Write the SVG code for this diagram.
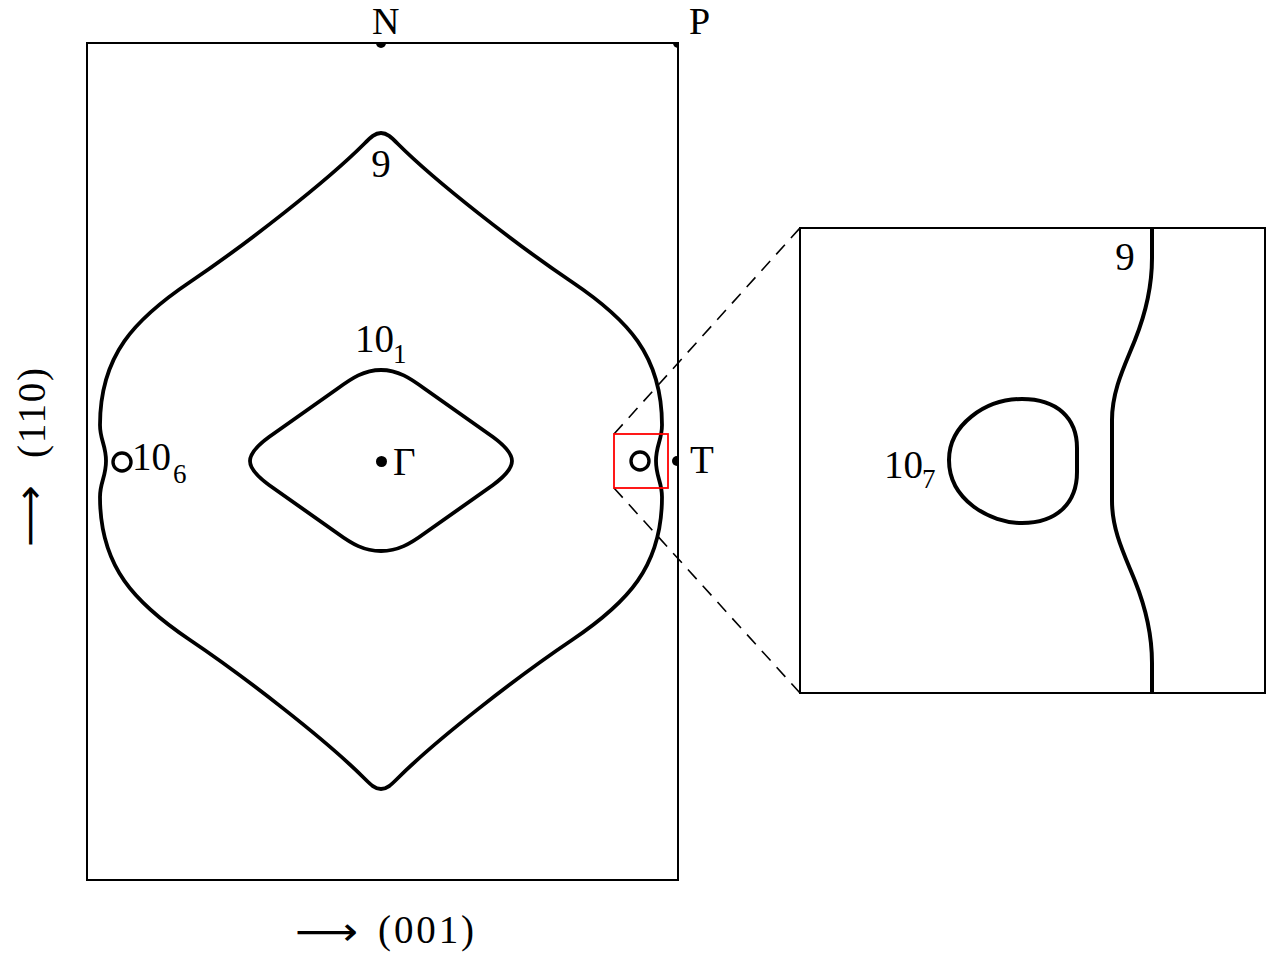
<svg xmlns="http://www.w3.org/2000/svg" width="1278" height="959" viewBox="0 0 1278 959">
  <style>
    .frame { fill: none; stroke: #000; stroke-width: 2; }
    .fs { fill: none; stroke: #000; stroke-width: 3.8; stroke-linejoin: round; }
    .dot { fill: #000; }
    .lbl { font-family: "Liberation Serif", "DejaVu Serif", serif; font-size: 39px; fill: #000; }
    .top { font-size: 38px; }
    .sub { font-family: "Liberation Serif", "DejaVu Serif", serif; font-size: 27px; fill: #000; }
    .arr { font-family: "DejaVu Sans", sans-serif; font-size: 39px; fill: #000; }
    .dash { fill: none; stroke: #000; stroke-width: 1.6; stroke-dasharray: 13 9; }
    .zoombox { fill: none; stroke: #ff0000; stroke-width: 1.8; }
  </style>
  <defs>
    <clipPath id="frameClip">
      <rect x="87" y="43" width="591" height="837"/>
    </clipPath>
  </defs>
  <rect width="1278" height="959" fill="#fff"/>

  <g id="connectors">
    <line class="dash" x1="614" y1="434" x2="800" y2="228"/>
    <line class="dash" x1="614" y1="488" x2="800" y2="693"/>
  </g>

  <g id="brillouin-frame">
    <rect class="frame" x="87" y="43" width="591" height="837"/>
  </g>

  <g id="sheet-9">
    <path class="fs" d="M 381 133 C 375 133 371 137 364 144 C 326 182 245 245 190 282 C 135 319 100 355 100 425 C 100 440 106 445 106 461 C 106 477 100 482 100 497 C 100 567 135 603 190 640 C 245 677 326 740 364 778 C 371 785 375 789 381 789 C 387 789 391 785 398 778 C 436 740 517 677 572 640 C 627 603 662 567 662 497 C 662 482 656 477 656 461 C 656 445 662 440 662 425 C 662 355 627 319 572 282 C 517 245 436 182 398 144 C 391 137 387 133 381 133 Z"/>
    <text class="lbl" x="381" y="177" text-anchor="middle">9</text>
  </g>

  <g id="sheet-10-1">
    <path class="fs" d="M 381 370 C 398 370 410 378 425 389 L 493 437 C 508 448 512 455 512 461 C 512 467 508 474 493 485 L 425 533 C 410 544 398 551 381 551 C 364 551 352 544 337 533 L 269 485 C 254 474 250 467 250 461 C 250 455 254 448 269 437 L 337 389 C 352 378 364 370 381 370 Z"/>
    <text class="lbl" x="355" y="352">10</text>
    <text class="sub" x="393" y="363">1</text>
  </g>

  <g id="pocket-10-6">
    <circle class="fs" cx="122" cy="462" r="9" style="stroke-width:3.4"/>
    <text class="lbl" x="132" y="470">10</text>
    <text class="sub" x="173" y="483">6</text>
  </g>

  <g id="pocket-10-7">
    <circle class="fs" cx="640" cy="461" r="9" style="stroke-width:3.4"/>
  </g>

  <g id="point-gamma">
    <circle class="dot" cx="381.5" cy="461.5" r="5.5"/>
    <text class="lbl" x="393" y="475">Γ</text>
  </g>

  <g id="point-N">
    <circle class="dot" cx="381" cy="43" r="5" clip-path="url(#frameClip)"/>
    <text class="lbl top" x="372" y="34">N</text>
  </g>

  <g id="point-P">
    <circle class="dot" cx="678" cy="43" r="5" clip-path="url(#frameClip)"/>
    <text class="lbl top" x="689" y="34">P</text>
  </g>

  <g id="point-T">
    <circle class="dot" cx="677" cy="461" r="5" clip-path="url(#frameClip)"/>
    <text class="lbl" x="690" y="473">T</text>
  </g>

  <g id="zoom-box">
    <rect class="zoombox" x="614" y="434" width="54" height="54"/>
  </g>

  <g id="inset">
    <rect class="frame" x="800" y="228" width="465" height="465"/>
    <path class="fs" d="M 1152 228 L 1152 258 C 1152 290 1145 315 1135 340 C 1125 365 1112 390 1112 420 L 1112 501 C 1112 531 1125 556 1135 581 C 1145 606 1152 631 1152 663 L 1152 693" style="stroke-width:4"/>
    <text class="lbl" x="1125" y="270" text-anchor="middle">9</text>
    <path class="fs" d="M 1022 399 C 1057 399 1077 418 1077 448 L 1077 472 C 1077 503 1057 523 1022 523 C 990 523 949 500 949 460 C 949 425 985 399 1022 399 Z" style="stroke-width:4"/>
    <text class="lbl" x="884" y="478">10</text>
    <text class="sub" x="922" y="488">7</text>
  </g>

  <g id="axis-001">
    <text class="arr" x="295" y="945" textLength="63" lengthAdjust="spacingAndGlyphs">⟶</text>
    <text class="lbl" x="378" y="943" textLength="96">(001)</text>
  </g>

  <g id="axis-110" transform="translate(45 547) rotate(-90)">
    <text class="arr" x="0" y="-2" textLength="62" lengthAdjust="spacingAndGlyphs">⟶</text>
    <text class="lbl" x="89" y="0" textLength="90">(110)</text>
  </g>
</svg>
